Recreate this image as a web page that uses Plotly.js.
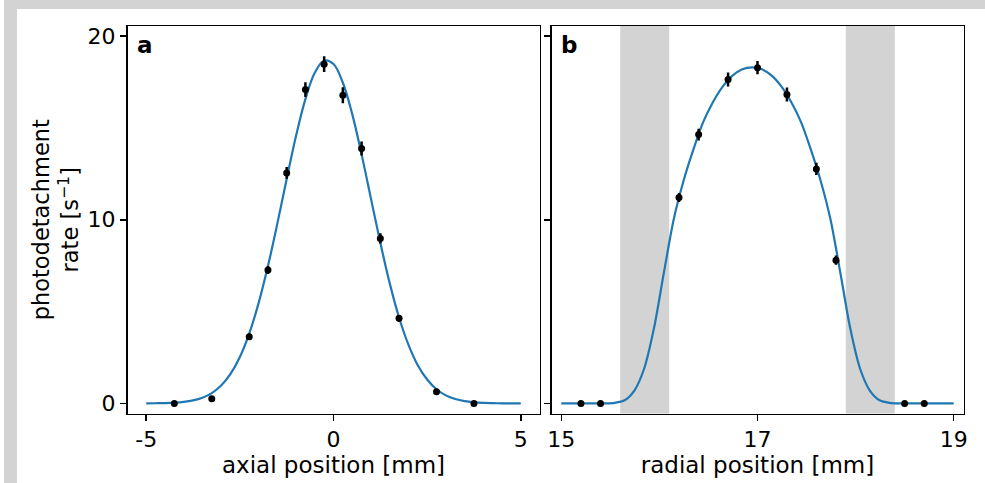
<!DOCTYPE html>
<html>
<head>
<meta charset="utf-8">
<script src="https://cdn.plot.ly/plotly-3.0.1.min.js"></script>
<style>
  html, body { margin:0; padding:0; background:#ffffff; }
  #wrap { position:relative; width:985px; height:483px; overflow:hidden; }
  .frame { position:absolute; background:#d3d3d3; }
  #plot { position:absolute; left:0; top:0; width:985px; height:483px; }
</style>
</head>
<body>
<div id="wrap">
  <div class="frame" style="left:4px; top:0; width:981px; height:9px;"></div>
  <div class="frame" style="left:4px; top:0; width:13px; height:483px;"></div>
  <div id="plot"></div>
</div>
<script>
// ---- panel a: axial scan ----
const axialX    = [-4.25, -3.25, -2.25, -1.75, -1.25, -0.75, -0.25, 0.25, 0.75, 1.25, 1.75, 2.75, 3.75];
const axialRate = [0.0, 0.25, 3.63, 7.26, 12.55, 17.09, 18.47, 16.78, 13.88, 8.98, 4.63, 0.63, 0.0];
const axialErr  = [0.1, 0.12, 0.18, 0.22, 0.32, 0.40, 0.43, 0.43, 0.38, 0.28, 0.18, 0.12, 0.1];

const axialFitX = [-5.0, -4.75, -4.5, -4.25, -4.0, -3.75, -3.5, -3.25, -3.0, -2.75, -2.5, -2.25, -2.0, -1.75,
                   -1.5, -1.25, -1.0, -0.75, -0.5, -0.25, 0.0, 0.25, 0.5, 0.75, 1.0, 1.25, 1.5, 1.75,
                   2.0, 2.25, 2.5, 2.75, 3.0, 3.25, 3.5, 3.75, 4.0, 4.25, 4.5, 4.75, 5.0];
const axialFitY = [0.003, 0.008, 0.018, 0.040, 0.083, 0.164, 0.311, 0.563, 0.974, 1.607, 2.53, 3.805, 5.46, 7.48,
                   9.79, 12.22, 14.57, 16.57, 18.00, 18.67, 18.48, 17.46, 15.75, 13.56, 11.15, 8.75, 6.55, 4.68,
                   3.20, 2.08, 1.30, 0.77, 0.436, 0.236, 0.122, 0.060, 0.028, 0.013, 0.005, 0.002, 0.001];

// ---- panel b: radial scan ----
const radialX    = [15.2, 15.4, 16.2, 16.4, 16.7, 17.0, 17.3, 17.6, 17.8, 18.5, 18.7];
const radialRate = [0.0, 0.0, 11.21, 14.64, 17.64, 18.28, 16.82, 12.77, 7.80, 0.0, 0.0];
const radialErr  = [0.1, 0.1, 0.25, 0.32, 0.38, 0.36, 0.38, 0.34, 0.25, 0.1, 0.1];

const radialFitX = [15.0, 15.2, 15.445, 15.545, 15.645, 15.745, 15.845, 15.945, 16.045, 16.145, 16.245, 16.345,
                    16.445, 16.545, 16.645, 16.745, 16.845, 16.945, 17.045, 17.145, 17.245, 17.345, 17.445,
                    17.545, 17.645, 17.745, 17.845, 17.945, 18.045, 18.145, 18.245, 18.345, 18.445, 18.7, 19.0];
const radialFitY = [0, 0, 0, 0.03, 0.17, 0.7, 1.9, 4.1, 7.1, 10.0, 12.1, 13.8,
                    15.3, 16.4, 17.25, 17.85, 18.2, 18.3, 18.2, 17.85, 17.25, 16.4, 15.3,
                    13.8, 12.1, 10.0, 7.1, 4.1, 1.9, 0.7, 0.17, 0.03, 0, 0, 0];

const bandStart = [15.6, 17.9];
const bandEnd   = [16.1, 18.4];

const axialTicks  = [-5, 0, 5];
const axialLabels = ['-5', '0', '5'];
const radialTicks  = [15, 17, 19];
const radialLabels = ['15', '17', '19'];
const rateTicks  = [0, 10, 20];
const rateLabels = ['0', '10', '20'];

const FONT = 'DejaVu Sans, sans-serif';
const BLUE = '#1f77b4';

const traces = [
  { x: axialFitX, y: axialFitY, xaxis: 'x', yaxis: 'y', mode: 'lines',
    line: { color: BLUE, width: 2.2, shape: 'spline' }, hoverinfo: 'skip' },
  { x: axialX, y: axialRate, xaxis: 'x', yaxis: 'y', mode: 'markers',
    marker: { color: 'black', size: 7 },
    error_y: { type: 'data', array: axialErr, visible: true, color: 'black', thickness: 2.5, width: 0 } },
  { x: radialFitX, y: radialFitY, xaxis: 'x2', yaxis: 'y2', mode: 'lines',
    line: { color: BLUE, width: 2.2, shape: 'spline', smoothing: 0.8 }, hoverinfo: 'skip' },
  { x: radialX, y: radialRate, xaxis: 'x2', yaxis: 'y2', mode: 'markers',
    marker: { color: 'black', size: 7 },
    error_y: { type: 'data', array: radialErr, visible: true, color: 'black', thickness: 2.5, width: 0 } }
];

const W = 985, H = 483;
const axisCommon = {
  showline: true, mirror: true, linecolor: 'black', linewidth: 1.5,
  ticks: 'outside', ticklen: 6, tickwidth: 1.5, tickcolor: 'black',
  showgrid: false, zeroline: false, automargin: false,
  tickfont: { family: FONT, size: 22, color: 'black' }
};

const shapes = bandStart.map((s, i) => ({
  type: 'rect', xref: 'x2', yref: 'y2 domain', x0: s, x1: bandEnd[i], y0: 0, y1: 1,
  fillcolor: '#d3d3d3', line: { width: 0 }, layer: 'below'
}));

const layout = {
  width: W, height: H,
  margin: { l: 0, r: 0, t: 0, b: 0 },
  paper_bgcolor: 'rgba(0,0,0,0)',
  plot_bgcolor: 'white',
  showlegend: false,
  font: { family: FONT, color: 'black' },
  xaxis: Object.assign({}, axisCommon, {
    domain: [127.5 / W, 539.5 / W], range: [-5.5, 5.5], anchor: 'y',
    tickmode: 'array', tickvals: axialTicks, ticktext: axialLabels,
    title: { text: 'axial position [mm]', font: { family: FONT, size: 23, color: 'black' }, standoff: 0 }
  }),
  yaxis: Object.assign({}, axisCommon, {
    domain: [1 - 413.5 / H, 1 - 26 / H], range: [-0.55, 20.55], anchor: 'x',
    tickmode: 'array', tickvals: rateTicks, ticktext: rateLabels,
    title: { text: 'photodetachment<br>rate [s<sup>−1</sup>]', font: { family: FONT, size: 22.5, color: 'black' }, standoff: 2 }
  }),
  xaxis2: Object.assign({}, axisCommon, {
    domain: [551.5 / W, 963.5 / W], range: [14.9, 19.1], anchor: 'y2',
    tickmode: 'array', tickvals: radialTicks, ticktext: radialLabels,
    title: { text: 'radial position [mm]', font: { family: FONT, size: 23, color: 'black' }, standoff: 0 }
  }),
  yaxis2: Object.assign({}, axisCommon, {
    domain: [1 - 413.5 / H, 1 - 26 / H], matches: 'y', anchor: 'x2',
    tickmode: 'array', tickvals: rateTicks, ticktext: rateLabels, showticklabels: false
  }),
  shapes: shapes,
  annotations: [
    { text: '<b>a</b>', xref: 'x domain', yref: 'y domain', x: 0.018, y: 0.99, xanchor: 'left', yanchor: 'top',
      showarrow: false, font: { family: FONT, size: 23, color: 'black' } },
    { text: '<b>b</b>', xref: 'x2 domain', yref: 'y2 domain', x: 0.018, y: 0.99, xanchor: 'left', yanchor: 'top',
      showarrow: false, font: { family: FONT, size: 23, color: 'black' } }
  ]
};

Plotly.newPlot('plot', traces, layout, { staticPlot: true, displayModeBar: false });
</script>
</body>
</html>
